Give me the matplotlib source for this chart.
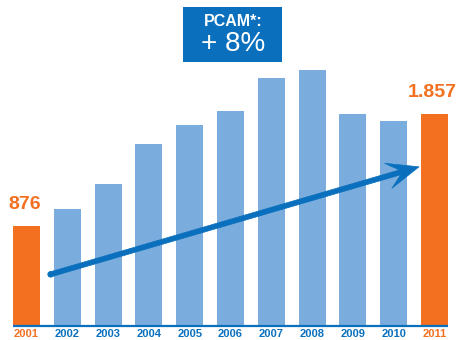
import matplotlib
matplotlib.use("Agg")
import matplotlib.pyplot as plt
from matplotlib.patches import FancyArrow, Rectangle

plt.rcParams["font.family"] = ["Liberation Sans", "DejaVu Sans"]

anos = ["2001", "2002", "2003", "2004", "2005", "2006",
        "2007", "2008", "2009", "2010", "2011"]
valores = [876, 1021, 1241, 1595, 1762, 1885, 2175, 2246, 1859, 1797, 1857]
rotulos = {0: "876", 10: "1.857"}
titulo_caixa = "PCAM*:"
valor_caixa = "+ 8%"
seta_inicio = (0.59, 450)
seta_fim = (9.62, 1395)

LARANJA = "#f37021"
AZUL_BARRA = "#7aaddd"
AZUL = "#0a70bd"

fig = plt.figure(figsize=(4.59, 3.40), dpi=100)
ax = fig.add_axes([0, 0, 1, 1])
ax.set_xlim(-0.65, 10.6)
ax.set_ylim(-127, 2861)
ax.axis("off")

x = list(range(len(anos)))
cores = [LARANJA if i in rotulos else AZUL_BARRA for i in x]
ax.bar(x, valores, width=0.66, color=cores, zorder=2)
ax.plot([-0.33, 10.33], [0, 0], color=AZUL, lw=1.6, zorder=3,
        solid_capstyle="butt")

for i, ano in enumerate(anos):
    ax.text(i, -105, ano, ha="center", va="baseline", fontsize=8.0,
            fontweight="bold", color=LARANJA if i in rotulos else AZUL)

for i, txt in rotulos.items():
    ax.text(i - 0.05, valores[i] + 115, txt, ha="center", va="bottom",
            fontsize=14, fontweight="bold", color=LARANJA)

# seta de tendencia, desenhada em polegadas para manter a forma da ponta
para_pol = ax.transData + fig.dpi_scale_trans.inverted()
(x0, y0), (x1, y1) = para_pol.transform([seta_inicio, seta_fim])
seta = FancyArrow(x0, y0, x1 - x0, y1 - y0, width=0.05, head_width=0.26,
                  head_length=0.32, overhang=0.38, length_includes_head=True,
                  transform=fig.dpi_scale_trans, facecolor=AZUL,
                  edgecolor=AZUL, lw=0.5, joinstyle="round", zorder=4)
fig.patches.append(seta)
fig.patches.append(plt.Circle((x0, y0), 0.025, transform=fig.dpi_scale_trans,
                              color=AZUL, zorder=4))

caixa = Rectangle((182.5 / 459, 1 - 62 / 340), 99 / 459, 55 / 340,
                  transform=fig.transFigure, facecolor=AZUL,
                  edgecolor="none", zorder=5)
fig.patches.append(caixa)
fig.text(233 / 459, 1 - 22 / 340, titulo_caixa, ha="center", va="center",
         fontsize=11.5, fontweight="bold", color="white", zorder=6)
fig.text(233 / 459, 1 - 44 / 340, valor_caixa, ha="center", va="center",
         fontsize=20, color="white", zorder=6)

fig.savefig("out.png", facecolor="white")
